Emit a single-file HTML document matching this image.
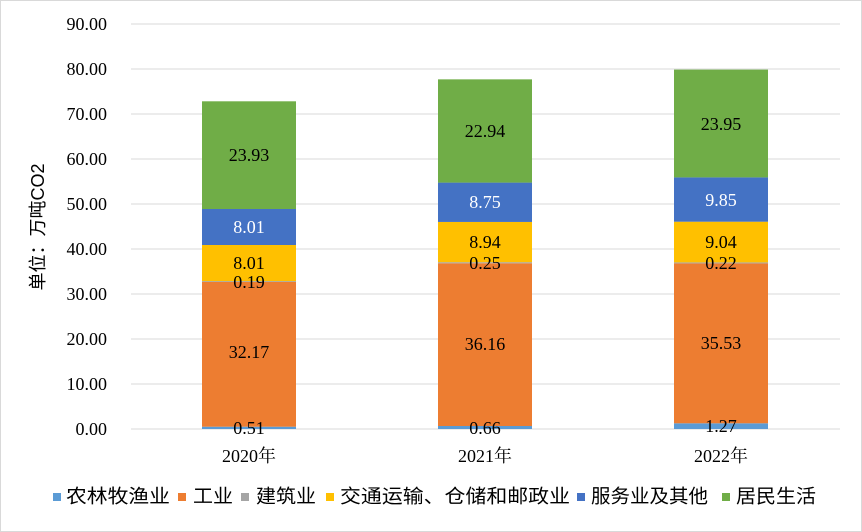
<!DOCTYPE html>
<html><head><meta charset="utf-8"><style>
html,body{margin:0;padding:0;background:#fff;}
svg{display:block;}
.t{font-family:"Liberation Serif","Noto Serif CJK SC",serif;font-size:18px;fill:#000;}
.l{font-family:"Liberation Sans","Noto Sans CJK SC",sans-serif;font-size:19px;fill:#000;}
.y{font-family:"Liberation Sans","Noto Sans CJK SC",sans-serif;font-size:18px;fill:#000;}
</style></head><body>
<svg width="862" height="532" xmlns="http://www.w3.org/2000/svg">
<rect x="0.5" y="0.5" width="861" height="531" fill="#fff" stroke="#d9d9d9"/>
<g stroke="#d9d9d9" stroke-width="1">
<line x1="131" x2="840" y1="24" y2="24"/><line x1="131" x2="840" y1="69" y2="69"/>
<line x1="131" x2="840" y1="114" y2="114"/><line x1="131" x2="840" y1="159" y2="159"/>
<line x1="131" x2="840" y1="204" y2="204"/><line x1="131" x2="840" y1="249" y2="249"/>
<line x1="131" x2="840" y1="294" y2="294"/><line x1="131" x2="840" y1="339" y2="339"/>
<line x1="131" x2="840" y1="384" y2="384"/><line x1="131" x2="840" y1="429" y2="429"/>
</g>
<g class="t" text-anchor="end" dominant-baseline="central">
<text x="107" y="24">90.00</text><text x="107" y="69">80.00</text><text x="107" y="114">70.00</text>
<text x="107" y="159">60.00</text><text x="107" y="204">50.00</text><text x="107" y="249">40.00</text>
<text x="107" y="294">30.00</text><text x="107" y="339">20.00</text><text x="107" y="384">10.00</text>
<text x="107" y="429">0.00</text>
</g>
<text class="y" transform="translate(38,227) rotate(-90)" text-anchor="middle" dominant-baseline="central">单位：万吨CO2</text>
<rect x="202" y="426.7" width="94" height="2.3" fill="#5b9bd5"/>
<rect x="202" y="281.9" width="94" height="144.8" fill="#ed7d31"/>
<rect x="202" y="281.1" width="94" height="0.9" fill="#a5a5a5"/>
<rect x="202" y="245.0" width="94" height="36.1" fill="#ffc000"/>
<rect x="202" y="209.0" width="94" height="36.0" fill="#4472c4"/>
<rect x="202" y="101.3" width="94" height="107.7" fill="#70ad47"/>
<rect x="438" y="426.0" width="94" height="3" fill="#5b9bd5"/>
<rect x="438" y="263.3" width="94" height="162.7" fill="#ed7d31"/>
<rect x="438" y="262.2" width="94" height="1.1" fill="#a5a5a5"/>
<rect x="438" y="221.95" width="94" height="40.25" fill="#ffc000"/>
<rect x="438" y="182.6" width="94" height="39.35" fill="#4472c4"/>
<rect x="438" y="79.35" width="94" height="103.25" fill="#70ad47"/>
<rect x="674" y="423.3" width="94" height="5.7" fill="#5b9bd5"/>
<rect x="674" y="263.4" width="94" height="159.9" fill="#ed7d31"/>
<rect x="674" y="262.4" width="94" height="1.0" fill="#a5a5a5"/>
<rect x="674" y="221.7" width="94" height="40.7" fill="#ffc000"/>
<rect x="674" y="177.4" width="94" height="44.3" fill="#4472c4"/>
<rect x="674" y="69.6" width="94" height="107.8" fill="#70ad47"/>
<g class="t" text-anchor="middle" dominant-baseline="central">
<text x="249" y="428">0.51</text><text x="249" y="352">32.17</text><text x="249" y="282">0.19</text>
<text x="249" y="263">8.01</text><text x="249" y="227" fill="#fff">8.01</text><text x="249" y="155">23.93</text>
<text x="485" y="428">0.66</text><text x="485" y="344">36.16</text><text x="485" y="263">0.25</text>
<text x="485" y="242">8.94</text><text x="485" y="202" fill="#fff">8.75</text><text x="485" y="131">22.94</text>
<text x="721" y="426">1.27</text><text x="721" y="343">35.53</text><text x="721" y="263">0.22</text>
<text x="721" y="242">9.04</text><text x="721" y="200" fill="#fff">9.85</text><text x="721" y="124">23.95</text>
<text x="249" y="456">2020年</text><text x="485" y="456">2021年</text><text x="721" y="456">2022年</text>
</g>
<g class="l" dominant-baseline="central">
<rect x="53" y="493" width="8" height="8" fill="#5b9bd5"/><text x="66" y="497" textLength="104" lengthAdjust="spacingAndGlyphs">农林牧渔业</text>
<rect x="178" y="493" width="8" height="8" fill="#ed7d31"/><text x="193" y="497" textLength="40" lengthAdjust="spacingAndGlyphs">工业</text>
<rect x="241" y="493" width="8" height="8" fill="#a5a5a5"/><text x="256" y="497" textLength="60" lengthAdjust="spacingAndGlyphs">建筑业</text>
<rect x="326" y="493" width="8" height="8" fill="#ffc000"/><text x="340" y="497" textLength="230" lengthAdjust="spacingAndGlyphs">交通运输、仓储和邮政业</text>
<rect x="577" y="493" width="8" height="8" fill="#4472c4"/><text x="591" y="497" textLength="117" lengthAdjust="spacingAndGlyphs">服务业及其他</text>
<rect x="722" y="493" width="8" height="8" fill="#70ad47"/><text x="736" y="497" textLength="80" lengthAdjust="spacingAndGlyphs">居民生活</text>
</g>
</svg>
</body></html>
